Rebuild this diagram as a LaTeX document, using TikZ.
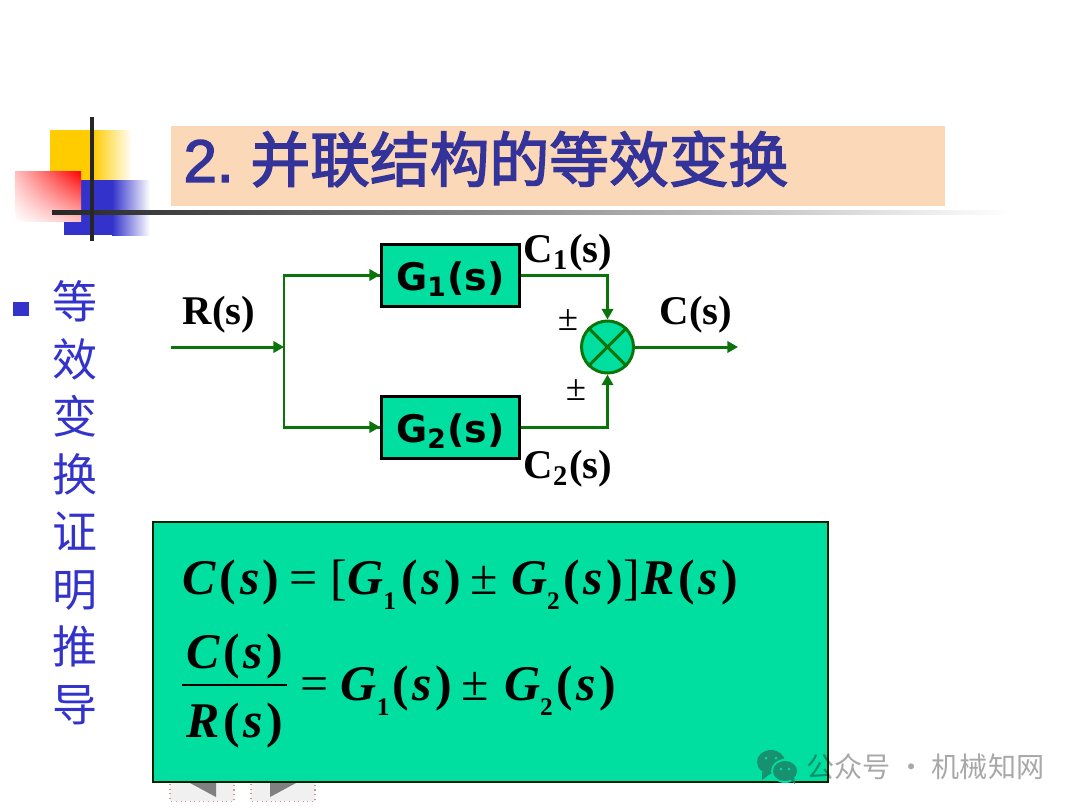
\documentclass[tikz,border=0pt]{standalone}
\usepackage{fontspec}
\setmainfont{Liberation Serif}
\newfontfamily\cjk{Noto Sans CJK SC}
\newfontfamily\boxfont{DejaVu Sans}
\newfontfamily\titlefont[FakeBold=2.5]{Liberation Sans}
\newfontfamily\titlecjk[FakeBold=2.5]{Noto Sans CJK SC}
\usetikzlibrary{arrows.meta,shadings}
\definecolor{slidegreen}{HTML}{00DFA0}
\definecolor{wiregreen}{HTML}{0A740A}
\definecolor{titleblue}{HTML}{333399}
\definecolor{bulletblue}{HTML}{3333CC}
\definecolor{titlepeach}{HTML}{FAD8B8}
\definecolor{logoyellow}{HTML}{FFCC00}
\definecolor{wechatgreen}{HTML}{17916F}
\newcommand{\bi}[1]{\textbf{\textit{#1}}}
\newcommand{\low}[1]{\textsubscript{\textbf{#1}}}
\newcommand{\idx}[1]{\raisebox{-0.32em}{\fontsize{7.2}{8}\selectfont\bfseries #1}}
\newcommand{\ofs}{\textbf{(}\kern.07em\bi{s}\kern.07em\textbf{)}}
\tikzset{
    block/.style={draw=black, line width=0.85pt, fill=slidegreen, minimum width=1.38cm, minimum height=0.62cm, inner sep=0pt, text height=0.4cm, text depth=0.1cm, font=\boxfont\bfseries\fontsize{10.8}{13}\selectfont},
    wire/.style={draw=wiregreen, line width=0.85pt},
    arrow/.style={wire, -{Triangle[length=3pt,width=3.2pt]}},
    signal/.style={inner sep=0pt, font=\bfseries\fontsize{11.6}{14}\selectfont},
    sign/.style={inner sep=0pt, font=\fontsize{10.5}{12}\selectfont},
    formula/.style={inner sep=0pt, anchor=base west, font=\fontsize{14.2}{17}\selectfont},
    mark text/.style={inner sep=0pt, text=black, text opacity=0.34, font=\cjk\fontsize{8}{9}\selectfont}
}
\begin{document}
\begin{tikzpicture}
    \useasboundingbox (0,0) rectangle (10.8,-8.1);
    % Logo
    \fill[logoyellow] (0.5,-1.3) rectangle (0.93,-1.8);
    \shade[left color=logoyellow, right color=white] (0.93,-1.3) rectangle (1.32,-1.8);
    \fill[bulletblue] (0.64,-1.8) rectangle (1.12,-2.35);
    \shade[left color=bulletblue, right color=white] (1.12,-1.8) rectangle (1.5,-2.35);
    \shade[upper right=red, upper left=red!25, lower right=red!25, lower left=white] (0.15,-1.71) rectangle (0.81,-2.21);
    \shade[left color=black!85, middle color=black!60, right color=white] (0.52,-2.10) rectangle (10.1,-2.14);
    \fill[black!85] (0.90,-1.17) rectangle (0.94,-2.41);
    % Title
    \fill[titlepeach] (1.71,-1.26) rectangle (9.45,-2.06);
    \node (title) [anchor=west, inner sep=0pt, text=titleblue] at (1.83,-1.59) {\titlefont\fontsize{17}{20}\selectfont 2.\kern0.17cm\titlecjk 并联结构的等效变换};
    % Proof side text
    \fill[bulletblue] (0.13,-3.02) rectangle (0.29,-3.16);
    \node (proof) [anchor=north, inner sep=0pt, align=center, text=bulletblue, font=\cjk\fontsize{12.8}{16.36}\selectfont] at (0.75,-2.80) {等\\效\\变\\换\\证\\明\\推\\导};
    % Page buttons under the formula box
    \foreach \x in {1.70, 2.51}
        \draw[draw=red!40!gray!60, densely dotted, fill=gray!12, line width=0.3pt] (\x,-7.75) rectangle (\x+0.64,-8.01);
    \fill[gray] (1.90,-7.83) -- (2.16,-7.83) -- (2.16,-7.97) -- cycle;
    \fill[gray] (2.70,-7.83) -- (2.96,-7.83) -- (2.70,-7.97) -- cycle;
    % Blocks
    \node (G1) [block] at (4.505,-2.75) {G\textsubscript{1}(s)};
    \node (G2) [block] at (4.505,-4.27) {G\textsubscript{2}(s)};
    \node (sum) [circle, draw=wiregreen, line width=0.85pt, fill=slidegreen, minimum size=0.52cm, inner sep=0pt] at (6.075,-3.47) {};
    \draw[wire] (sum.north west) -- (sum.south east);
    \draw[wire] (sum.north east) -- (sum.south west);
    % Wiring
    \coordinate (in) at (1.71,-3.47);
    \coordinate (split) at (2.84,-3.47);
    \coordinate (out) at (7.38,-3.47);
    \draw[arrow] (in) -- (split);
    \draw[wire] (split) |- (G1.west);
    \draw[wire] (split) |- (G2.west);
    \draw[arrow] (split |- G1.west) -- (G1.west);
    \draw[arrow] (split |- G2.west) -- (G2.west);
    \draw[arrow] (G1.east) -| (sum.north);
    \draw[arrow] (G2.east) -| (sum.south);
    \draw[arrow] (sum.east) -- (out);
    % Labels
    \node (Rlabel) [signal] at (2.19,-3.15) {R(s)};
    \node (C1label) [signal] at (5.68,-2.53) {C\low{1}(s)};
    \node (C2label) [signal] at (5.68,-4.69) {C\low{2}(s)};
    \node (Clabel) [signal] at (6.96,-3.15) {C(s)};
    \node (plus1) [sign] at (5.68,-3.2) {±};
    \node (plus2) [sign] at (5.76,-3.9) {±};
    % Formula box
    \fill[slidegreen, draw=black!70!wiregreen, line width=0.4pt] (1.53,-5.22) rectangle (8.28,-7.82);
    \node (eqA) [formula] at (1.82,-5.94) {\bi{C}\kern.07em\ofs\kern.2em=\kern.26em[\bi{G}\idx{1}\kern.1em\ofs\kern.2em±\kern.26em\bi{G}\idx{2}\kern.08em\ofs]\kern.04em\bi{R}\kern.06em\ofs};
    \node (num) [formula, anchor=base] at (2.345,-6.68) {\bi{C}\kern.07em\ofs};
    \node (den) [formula, anchor=base] at (2.345,-7.37) {\bi{R}\kern.07em\ofs};
    \draw[black, line width=0.5pt] (1.82,-6.85) -- (2.87,-6.85);
    \node (eqB) [formula] at (3.0,-7.0) {=\kern.24em\bi{G}\idx{1}\kern.05em\ofs\kern.2em±\kern.3em\bi{G}\idx{2}\kern.08em\ofs};
    % Watermark
    \fill[wechatgreen] (7.71,-7.62) ellipse (0.14 and 0.12);
    \fill[wechatgreen] (7.62,-7.72) -- (7.62,-7.80) -- (7.70,-7.74) -- cycle;
    \fill[slidegreen] (7.85,-7.71) ellipse (0.14 and 0.12);
    \fill[wechatgreen] (7.85,-7.71) ellipse (0.12 and 0.10);
    \fill[wechatgreen] (7.90,-7.79) -- (7.95,-7.84) -- (7.94,-7.76) -- cycle;
    \foreach \x/\y in {7.66/-7.58, 7.76/-7.58, 7.81/-7.69, 7.89/-7.69}
        \fill[slidegreen] (\x,\y) circle (0.015);
    \node (mark) [mark text, anchor=west] at (8.06,-7.67) {公众号 · 机械知网};
\end{tikzpicture}
\end{document}
